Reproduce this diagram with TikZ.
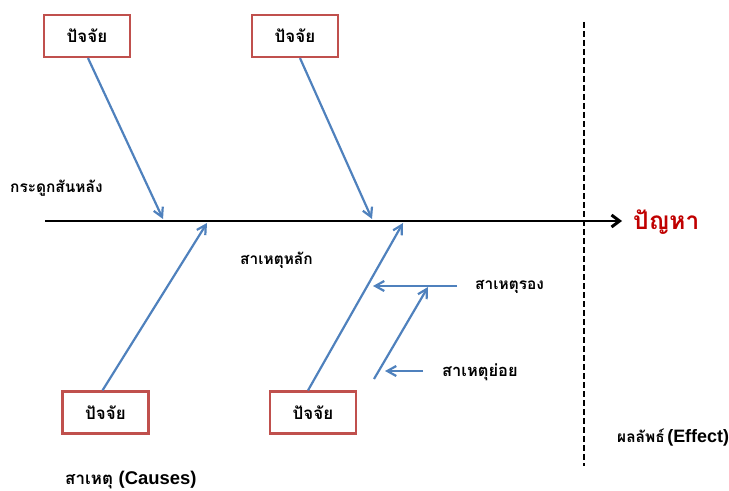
\documentclass[tikz,border=0pt]{standalone}
\usepackage{fontspec}
\usetikzlibrary{arrows.meta}
\newfontfamily\thaif[Script=Thai]{Loma}
\newfontfamily\latf{Liberation Sans}
\definecolor{boneblue}{HTML}{4F81BD}
\definecolor{boxred}{HTML}{C0504D}
\definecolor{probred}{HTML}{C00000}
\tikzset{
  factorbox/.style={draw=boxred, line width=2.2pt, fill=white, minimum width=86bp, minimum height=42bp, inner sep=0pt, font=\thaif\bfseries\fontsize{17}{20}\selectfont},
  bone/.style={draw=boneblue, line width=2.2pt, -{Straight Barb[length=9bp,width=10bp]}},
  spine/.style={draw=black, line width=3pt, -{Straight Barb[length=8bp,width=12bp]}},
  lbl/.style={anchor=west, inner sep=0pt, font=\thaif\bfseries\fontsize{15.5}{18}\selectfont},
}
\begin{document}
\begin{tikzpicture}[x=1bp,y=-1bp]
\useasboundingbox (0,0) rectangle (729,491);
% dashed divider
\coordinate (d1) at (584,22);
\coordinate (d2) at (584,466);
\draw[line width=1.3pt, dash pattern=on 6bp off 3bp] (d1) -- (d2);
% spine
\coordinate (sp0) at (45,221);
\coordinate (sp1) at (622,221);
\draw[spine] (sp0) -- (sp1);
\node[anchor=west, inner sep=0pt, text=probred, font=\thaif\bfseries\fontsize{24.5}{28}\selectfont] (prob) at (633,222) {ปัญหา};
% boxes
\node[factorbox] (b1) at (87,36) {ปัจจัย};
\node[factorbox] (b2) at (295,36) {ปัจจัย};
\node[factorbox] (b3) at (105.5,412.5) {ปัจจัย};
\node[factorbox] (b4) at (313,412.5) {ปัจจัย};
% spine targets
\coordinate (t1) at (163,219);
\coordinate (t2) at (372,219);
\coordinate (t3) at (207,223);
\coordinate (t4) at (403,223);
\draw[bone] ([xshift=1bp]b1.south) -- (t1);
\draw[bone] ([xshift=5bp]b2.south) -- (t2);
\draw[bone] ([xshift=-3bp]b3.north) -- (t3);
\draw[bone] ([xshift=-5bp]b4.north) -- (t4);
% secondary cause
\coordinate (c2a) at (457,286);
\coordinate (c2b) at (373,286);
\draw[bone] (c2a) -- (c2b);
% tertiary cause
\coordinate (c3a) at (374,379);
\coordinate (c3b) at (428,287);
\draw[bone] (c3a) -- (c3b);
\coordinate (c4a) at (423,371);
\coordinate (c4b) at (385,371);
\draw[bone] (c4a) -- (c4b);
% labels
\node[lbl] (spinelbl) at (10,188) {กระดูกสันหลัง};
\node[lbl] (mainlbl) at (240,260) {สาเหตุหลัก};
\node[lbl] (seclbl) at (475,287) {สาเหตุรอง};
\node[lbl, font=\thaif\bfseries\fontsize{16.5}{18}\selectfont] (terlbl) at (442,372) {สาเหตุย่อย};
\node[lbl, font=\thaif\bfseries\fontsize{17}{20}\selectfont] (causelbl) at (65,480) {สาเหตุ {\latf\bfseries\fontsize{18.5}{20}\selectfont(Causes)}};
\node[lbl] (effectlbl) at (617,438) {ผลลัพธ์\,{\latf\bfseries\fontsize{18}{20}\selectfont(Effect)}};
\end{tikzpicture}
\end{document}
